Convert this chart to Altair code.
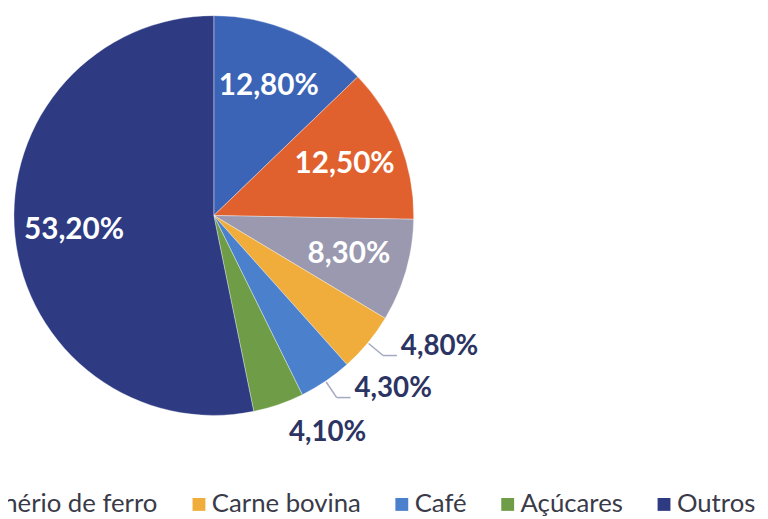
import altair as alt
import pandas as pd

# ---- data ----
categories = ["Soja", "Petróleo", "Minério de ferro", "Carne bovina", "Café", "Açúcares", "Outros"]
shares = [12.8, 12.5, 8.3, 4.8, 4.3, 4.1, 53.2]

# ---- style / layout ----
colors = ["#3b63b6", "#e0612d", "#9a99b0", "#f0ad3b", "#4a80cc", "#6e9c47", "#2e3a82"]
CX, CY, R = 208, 207, 202
R_IN = 142
R_OUT = 222
FONT = "Lato"

df = pd.DataFrame({"categoria": categories, "valor": shares, "ordem": list(range(len(categories)))})

fmt = "replace(format(datum.valor, '.2f'), '.', ',') + '%'"

base = alt.Chart(df)

pie = base.mark_arc(x=CX, y=CY, outerRadius=R, stroke="#ffffff", strokeWidth=0.6, strokeOpacity=0.6).encode(
    theta=alt.Theta("valor:Q", stack=True),
    order=alt.Order("ordem:Q"),
    color=alt.Color(
        "categoria:N",
        sort=categories,
        scale=alt.Scale(domain=categories, range=colors),
        legend=alt.Legend(
            title=None,
            orient="none",
            direction="horizontal",
            columns=7,
            legendX=-314,
            legendY=486,
            symbolType="square",
            symbolSize=169,
            symbolStrokeWidth=0,
            labelFont=FONT,
            labelFontSize=26,
            labelColor="#3a3a48",
            labelOffset=0,
            columnPadding=28,
            labelLimit=400,
        ),
    ),
)

inner = base.transform_calculate(
    lab=f"datum.valor >= 5 ? {fmt} : ''"
).mark_text(
    x=CX, y=CY, radius=R_IN, font=FONT, fontSize=30, fontWeight="bold", color="white",
    align="center", baseline="middle",
).encode(
    theta=alt.Theta("valor:Q", stack=True),
    order=alt.Order("ordem:Q"),
    detail="categoria:N",
    text="lab:N",
)

outer_base = base.transform_joinaggregate(
    total="sum(valor)"
).transform_window(
    cum="sum(valor)", sort=[alt.SortField("ordem")], frame=[None, 0]
).transform_calculate(
    mid="2*PI*(datum.cum - datum.valor/2)/datum.total"
).transform_filter(
    "datum.valor < 5"
).transform_calculate(
    ax=f"{CX} + {R_OUT}*sin(datum.mid)",
    ay=f"{CY} - {R_OUT}*cos(datum.mid)",
    ex=f"{CX} + {R + 1}*sin(datum.mid)",
    ey=f"{CY} - {R + 1}*cos(datum.mid)",
    lead="datum.mid < 2.6",
    lab=fmt,
).transform_calculate(
    hx="datum.ax + 14",
    lx="datum.lead ? datum.ax + 18 : datum.ax + 4",
    ly="datum.lead ? datum.ay - 9 : datum.ay + 10",
)

lead1 = outer_base.transform_filter("datum.lead").mark_rule(color="#a3a9c3", strokeWidth=1.5).encode(
    x=alt.X("ex:Q", scale=None), y=alt.Y("ey:Q", scale=None),
    x2="ax:Q", y2="ay:Q",
)
lead2 = outer_base.transform_filter("datum.lead").mark_rule(color="#a3a9c3", strokeWidth=1.5).encode(
    x=alt.X("ax:Q", scale=None), y=alt.Y("ay:Q", scale=None),
    x2="hx:Q", y2="ay:Q",
)
outer_text = outer_base.mark_text(
    font=FONT, fontSize=28, fontWeight="bold", color="#2b3463", align="left", baseline="middle"
).encode(
    x=alt.X("lx:Q", scale=None), y=alt.Y("ly:Q", scale=None), text="lab:N",
)

chart = alt.layer(pie, inner, lead1, lead2, outer_text).properties(
    width=760, height=511,
    autosize=alt.AutoSizeParams(type="none"),
    padding=0,
    background="white",
).configure_view(stroke=None)

chart.save("out.html", embed_options={"renderer": "svg", "actions": False})
